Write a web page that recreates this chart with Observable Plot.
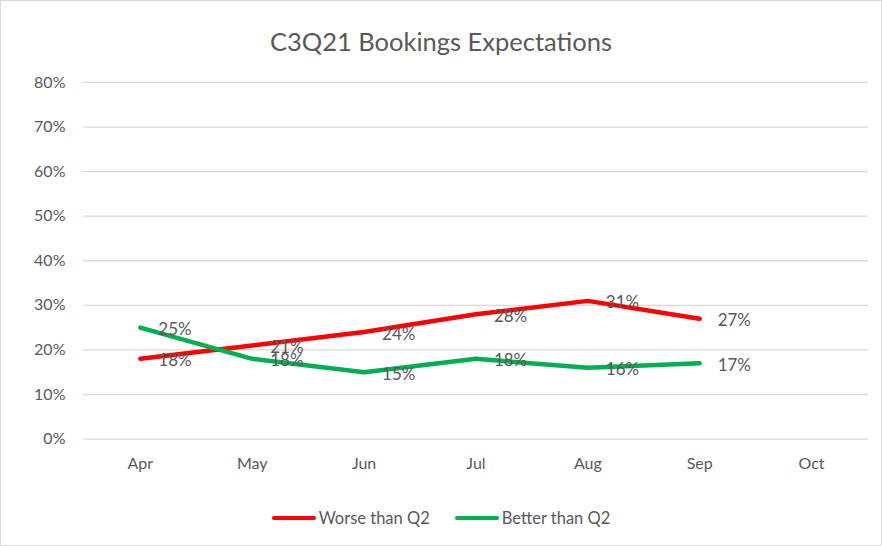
<!DOCTYPE html>
<html>
<head>
<meta charset="utf-8">
<script src="https://cdn.jsdelivr.net/npm/d3@7"></script>
<script src="https://cdn.jsdelivr.net/npm/@observablehq/plot@0.6"></script>
<style>
  html, body { margin: 0; padding: 0; background: #fff; }
  #chart { position: relative; width: 880px; height: 544px; border: 1px solid #d9d9d9; overflow: hidden; font-family: Lato, "Open Sans", sans-serif; color: #595959; }
  #title { position: absolute; left: 0; top: 0; width: 880px; height: 60px; text-align: center; font-size: 25.5px; line-height: 80px; color: #595959; }
  #plot { position: absolute; left: -1px; top: 59px; }
  #legend { position: absolute; left: 0; top: 507px; width: 880px; display: flex; justify-content: center; gap: 25px; font-size: 16.5px; color: #595959; }
  .item { display: flex; align-items: center; }
  .sw { width: 44px; height: 4px; border-radius: 2px; margin-right: 3px; }
</style>
</head>
<body>
<div id="chart">
  <div id="title">C3Q21 Bookings Expectations</div>
  <div id="plot"></div>
  <div id="legend"></div>
</div>
<script>
const months = ["Apr", "May", "Jun", "Jul", "Aug", "Sep", "Oct"];
const seriesNames = ["Worse than Q2", "Better than Q2"];
const seriesColors = ["#ff0000", "#00b050"];
const worseValues = [18, 21, 24, 28, 31, 27];
const betterValues = [25, 18, 15, 18, 16, 17];
const yTicks = [0, 10, 20, 30, 40, 50, 60, 70, 80];

const rows = [];
[worseValues, betterValues].forEach((vals, si) => {
  vals.forEach((v, i) => rows.push({month: months[i], value: v, series: seriesNames[si]}));
});

const plot = Plot.plot({
  width: 882,
  height: 420,
  marginTop: 22,
  marginBottom: 41,
  marginLeft: 83,
  marginRight: 13,
  style: {fontFamily: "Lato, 'Open Sans', sans-serif", fontSize: "16px", color: "#595959", background: "transparent"},
  x: {type: "point", domain: months, padding: 0.5, label: null},
  y: {domain: [0, 80], ticks: yTicks, tickFormat: d => d + "%", label: null},
  color: {domain: seriesNames, range: seriesColors},
  marks: [
    Plot.ruleY(yTicks, {stroke: "#d9d9d9", strokeWidth: 1.3}),
    Plot.axisY({ticks: yTicks, tickSize: 0, tickPadding: 18, tickFormat: d => d + "%", label: null, fill: "#595959", fontSize: 16}),
    Plot.axisX({tickSize: 0, tickPadding: 19, label: null, fill: "#595959", fontSize: 16}),
    Plot.line(rows, {x: "month", y: "value", z: "series", stroke: "series", strokeWidth: 4.5, strokeLinecap: "round", strokeLinejoin: "round"}),
    Plot.text(rows, {x: "month", y: "value", text: d => d.value + "%", textAnchor: "start", dx: 18, dy: 2, fill: "#595959", fontSize: 17})
  ]
});
document.getElementById("plot").appendChild(plot);

const legend = document.getElementById("legend");
seriesNames.forEach((name, i) => {
  const item = document.createElement("div");
  item.className = "item";
  const sw = document.createElement("div");
  sw.className = "sw";
  sw.style.background = seriesColors[i];
  const label = document.createElement("span");
  label.textContent = name;
  item.appendChild(sw);
  item.appendChild(label);
  legend.appendChild(item);
});
</script>
</body>
</html>
